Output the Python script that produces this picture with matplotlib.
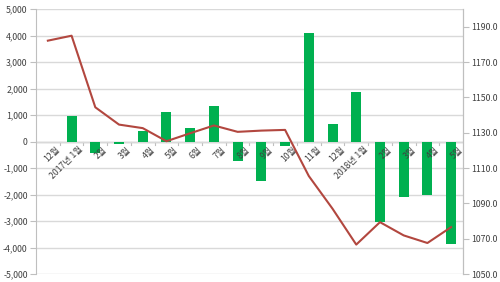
import numpy as np
import matplotlib
matplotlib.use("Agg")
import matplotlib.pyplot as plt

plt.rcParams['font.family'] = ['Noto Sans CJK KR', 'DejaVu Sans']

months = ["12월", "2017년 1월", "2월", "3월", "4월", "5월", "6월", "7월", "8월",
          "9월", "10월", "11월", "12월", "2018년 1월", "2월", "3월", "4월", "5월"]
bars = [0, 960, -440, -110, 380, 1110, 500, 1330, -730,
        -1500, -160, 4100, 680, 1860, -3020, -2100, -2030, -3860]
rate = [1182.1, 1184.9, 1144.4, 1134.6, 1132.6, 1125.2, 1129.7, 1134.1, 1130.5,
        1131.2, 1131.6, 1105.5, 1087.0, 1066.7, 1079.4, 1071.9, 1067.6, 1076.6]

GREEN = "#00B050"
RED = "#B2473F"
GRID = "#D9D9D9"
AX = "#BFBFBF"
TXT = "#404040"
FS = 6.3

fig = plt.figure(figsize=(5.0, 2.82), dpi=100)
ax = fig.add_axes([0.072, 0.028, 0.854, 0.94])
x = np.arange(len(months))
ax.bar(x, bars, width=0.42, color=GREEN, zorder=2)
ax.set_xlim(-0.5, len(months) - 0.5)
ax.set_ylim(-5000, 5000)
ax.set_yticks(np.arange(-5000, 5001, 1000))
ax.set_yticklabels([f"{v:,}" for v in range(-5000, 5001, 1000)])
ax.yaxis.grid(True, color=GRID, lw=1.0, zorder=0)
ax.axhline(0, color=AX, lw=1.0, zorder=1)
for s in ["top", "bottom"]:
    ax.spines[s].set_visible(False)
ax.spines["left"].set_color(AX)
ax.spines["right"].set_color(AX)
ax.tick_params(axis="y", colors=AX, labelcolor=TXT, labelsize=FS, length=4, pad=2)
ax.set_xticks([])
# category boundary ticks on the zero line
for b in np.arange(0.5, len(months) - 0.5, 1):
    ax.plot([b, b], [0, -140], color=AX, lw=0.8, zorder=1)
for i, m in enumerate(months):
    ax.text(i + 0.3, -120, m, rotation=45, rotation_mode="anchor",
            ha="right", va="top", fontsize=FS, color=TXT, zorder=3)

ax2 = ax.twinx()
ax2.plot(x, rate, color=RED, lw=1.5, zorder=3)
ax2.set_ylim(1050, 1200)
ax2.set_yticks(np.arange(1050, 1191, 20))
ax2.set_yticklabels([f"{v:.1f}" for v in range(1050, 1191, 20)])
for s in ["top", "bottom", "left"]:
    ax2.spines[s].set_visible(False)
ax2.spines["right"].set_color(AX)
ax2.tick_params(axis="y", colors=AX, labelcolor=TXT, labelsize=FS, length=4, pad=2)

plt.savefig("out.png", dpi=100)
plt.close()
